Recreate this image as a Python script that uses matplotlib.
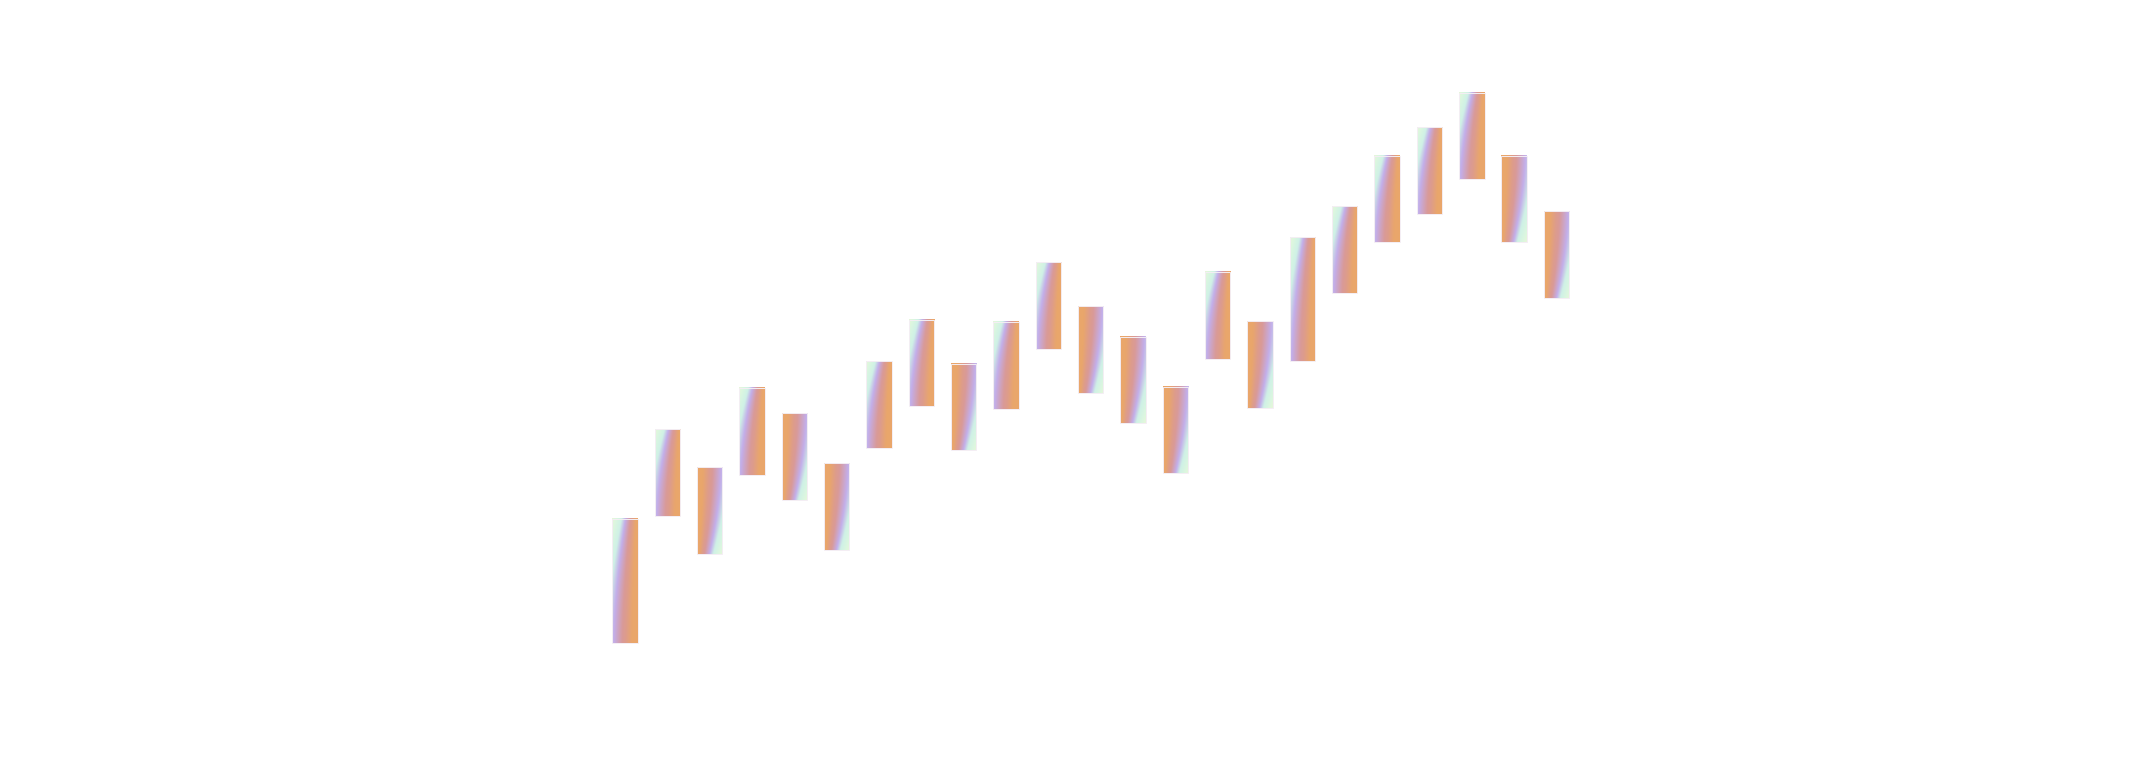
import numpy as np
import matplotlib
matplotlib.use("Agg")
import matplotlib.pyplot as plt
from matplotlib.colors import LinearSegmentedColormap

# ---- data ----
categories = [f"P{i+1}" for i in range(23)]
open_vals = [13.1, 42.4, 53.7, 51.9, 66.2, 54.6, 58.2, 67.8, 77.6, 67.1, 81.0, 90.8,
             83.8, 72.2, 78.6, 87.4, 78.1, 94.0, 105.6, 112.2, 120.1, 125.6, 112.7]
close_vals = [41.8, 62.4, 33.7, 72.0, 46.2, 34.7, 78.2, 87.7, 57.6, 87.2, 101.0, 70.8,
              63.8, 52.3, 98.7, 67.4, 106.7, 114.0, 125.6, 132.2, 140.1, 105.6, 92.7]

# ---- gradient fill (bar-local coordinates) ----
s_pts = [-1.6, -1.0, -0.4, 0.0, 0.5, 0.7, 1.05, 1.8]
c_pts = ["#eef6d6", "#ddf7df", "#cff1e6", "#c3aeea", "#d99a98", "#dd9c8c", "#e9a66c", "#eaa769"]
lo_s, hi_s = s_pts[0], s_pts[-1]
cmap = LinearSegmentedColormap.from_list(
    "holo", [((s - lo_s) / (hi_s - lo_s), c) for s, c in zip(s_pts, c_pts)])

nu, nv = 80, 240
u = np.linspace(0, 1, nu)[None, :]
v = np.linspace(0, 1, nv)[:, None]
w = v ** 1.6
lav = 0.06 + 0.46 * w
span = 0.68 - 0.30 * w
s = (u - lav) / span
tt = np.clip((s - lo_s) / (hi_s - lo_s), 0, 1)
rgba_up = cmap(tt)
rgba_down = rgba_up[::-1, ::-1]

fig = plt.figure(figsize=(21.44, 7.59), dpi=100)
ax = fig.add_axes([603.7 / 2144, 0, 974 / 2144, 1])
ax.set_axis_off()

width = 0.6
x = np.arange(len(categories))
for i, (o, c) in enumerate(zip(open_vals, close_vals)):
    lo, hi = min(o, c), max(o, c)
    img = rgba_up if c >= o else rgba_down
    ax.imshow(img, extent=(x[i] - width / 2, x[i] + width / 2, lo, hi),
              origin="lower", aspect="auto", interpolation="bilinear", zorder=2)

lows = [min(o, c) for o, c in zip(open_vals, close_vals)]
heights = [abs(c - o) for o, c in zip(open_vals, close_vals)]
ax.bar(x, heights, bottom=lows, width=width, color="none",
       edgecolor="#f4eef4", linewidth=0.7, zorder=3)

ax.set_xlim(-0.5, len(categories) - 0.5)
ax.set_ylim((700 - 759) / 4.335, 700 / 4.335)

fig.savefig("out.png", dpi=100, facecolor="white")
